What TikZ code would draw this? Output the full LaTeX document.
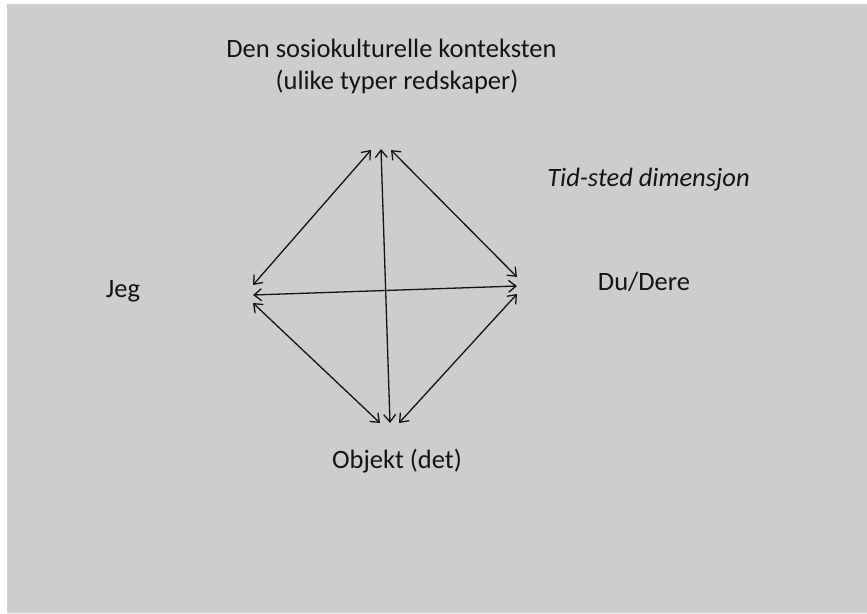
\documentclass[tikz,border=0pt]{standalone}
\usepackage{fontspec}
\setmainfont{Carlito}
\usetikzlibrary{arrows.meta}
\definecolor{bggray}{RGB}{205,205,205}
\definecolor{ink}{RGB}{20,20,20}
\begin{document}
\begin{tikzpicture}[x=1pt,y=-1pt,
  lbl/.style={inner sep=0pt,anchor=base,text=ink,font=\fontsize{26.5}{32}\selectfont},
  link/.style={draw=ink,line width=1.3pt,{Straight Barb[length=7.5pt,width=12pt]}-{Straight Barb[length=7.5pt,width=12pt]}}]
\useasboundingbox (0,0) rectangle (867,613);
\fill[white] (0,0) rectangle (867,613);
\fill[bggray] (7,4) rectangle (867,613);
% labels
\node[lbl] (ctx1) at (391.5,57) {Den sosiokulturelle konteksten};
\node[lbl] (ctx2) at (397,89) {(ulike typer redskaper)};
\node[lbl,font=\fontsize{26.5}{32}\selectfont\itshape] (tid) at (648.5,186) {Tid-sted dimensjon};
\node[lbl] (jeg) at (123,297) {Jeg};
\node[lbl] (du) at (644,290) {Du/Dere};
\node[lbl] (obj) at (397,468) {Objekt (det)};
% end points
\coordinate (tL) at (371,150);
\coordinate (tM) at (381,149);
\coordinate (tR) at (391,150);
\coordinate (lU) at (253,285);
\coordinate (lM) at (253,295);
\coordinate (lD) at (253,303);
\coordinate (rU) at (517,277);
\coordinate (rM) at (517,286);
\coordinate (rD) at (517,294);
\coordinate (bL) at (380,423);
\coordinate (bM) at (390,423);
\coordinate (bR) at (399,423);
% connectors
\draw[link] (lU) -- (tL);
\draw[link] (tR) -- (rU);
\draw[link] (lM) -- (rM);
\draw[link] (tM) -- (bM);
\draw[link] (lD) -- (bL);
\draw[link] (rD) -- (bR);
\end{tikzpicture}
\end{document}
